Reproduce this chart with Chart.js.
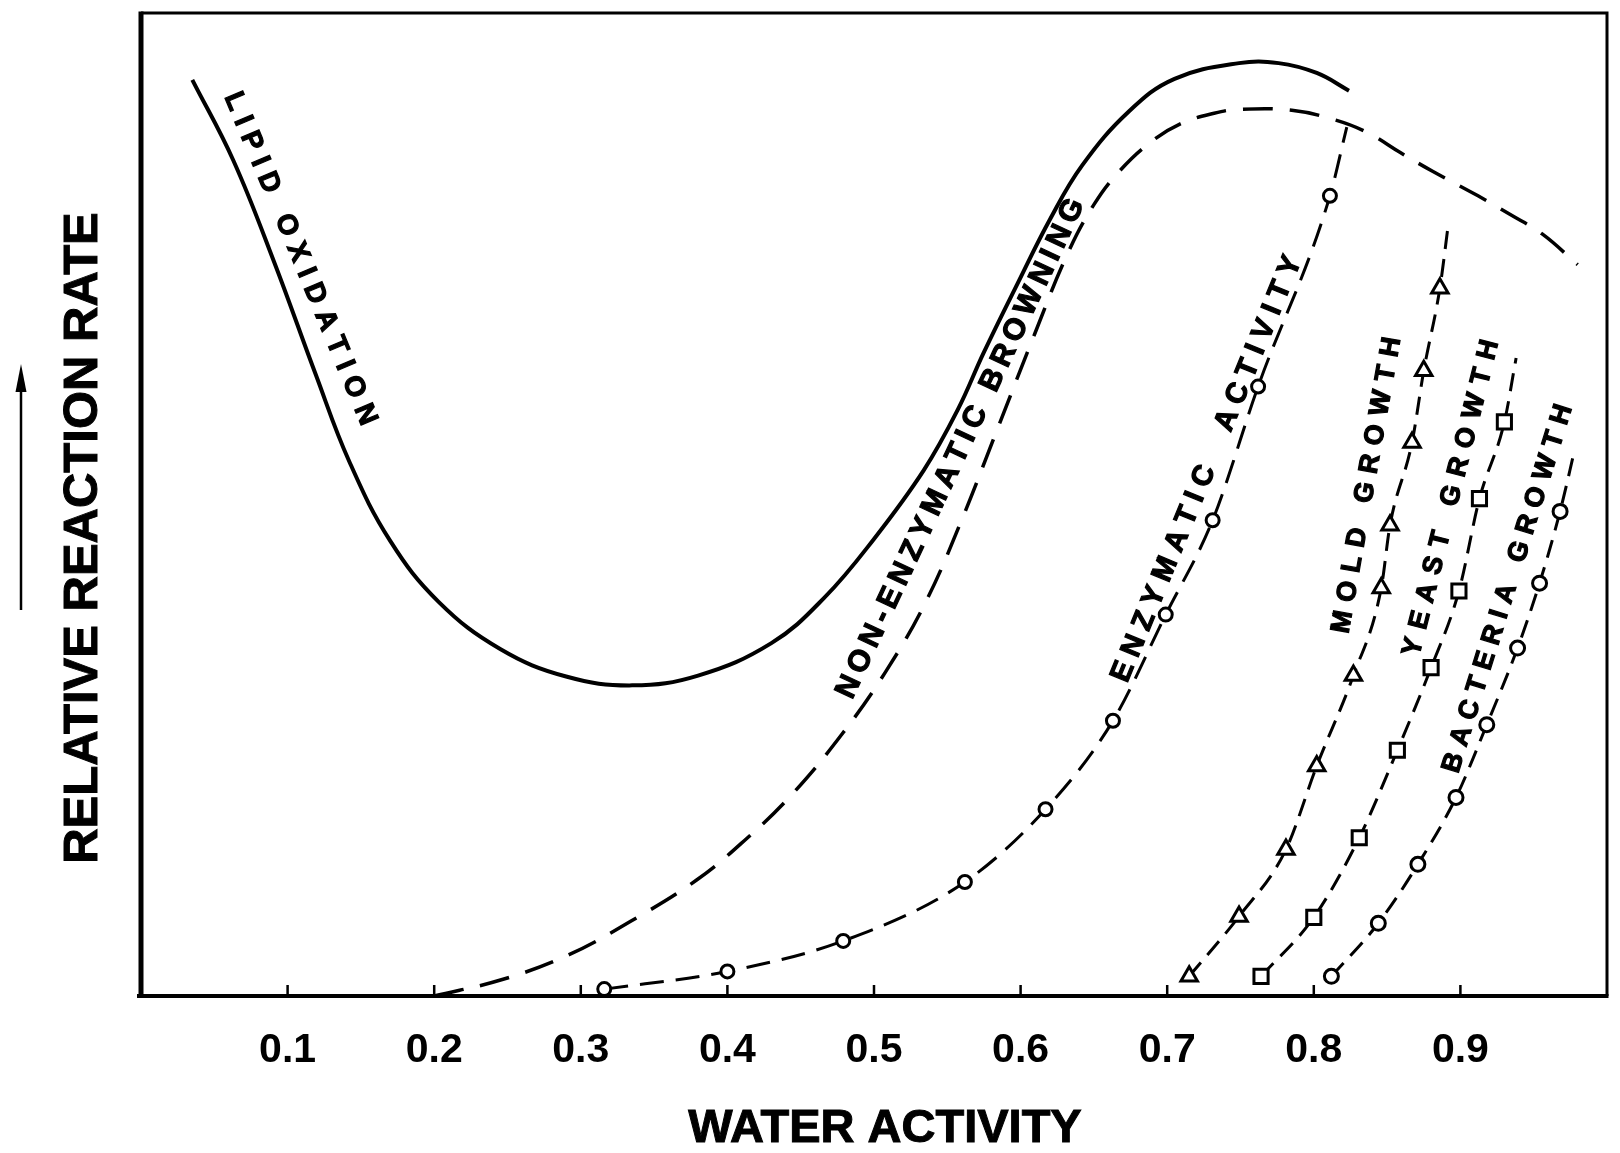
<!DOCTYPE html>
<html>
<head>
<meta charset="utf-8">
<title>Water activity stability map</title>
<script src="https://cdn.jsdelivr.net/npm/chart.js@4.4.1/dist/chart.umd.min.js"></script>
<style>
  html, body { margin: 0; padding: 0; background: #fff; }
  #wrap { width: 1620px; height: 1153px; }
</style>
</head>
<body>
<div id="wrap"><canvas id="chart" width="1620" height="1153"></canvas></div>
<script>
// x axis (water activity)
var xTickValues = [0.1, 0.2, 0.3, 0.4, 0.5, 0.6, 0.7, 0.8, 0.9];
var xTickLabels = ['0.1', '0.2', '0.3', '0.4', '0.5', '0.6', '0.7', '0.8', '0.9'];

// lipid oxidation, solid line
var lipidX = [0.035, 0.063, 0.091, 0.119, 0.142, 0.170, 0.203, 0.245, 0.290, 0.335, 0.380, 0.430, 0.466, 0.500, 0.534, 0.557, 0.575, 0.598, 0.620, 0.642, 0.674, 0.705, 0.749, 0.776, 0.802, 0.824];
var lipidY = [93.2, 85.0, 74.6, 63.3, 54.4, 46.3, 40.1, 35.3, 32.5, 31.6, 32.6, 35.9, 40.5, 46.5, 53.5, 59.6, 65.5, 72.5, 79.0, 84.5, 90.0, 93.3, 94.9, 94.9, 93.9, 92.1];

// non-enzymatic browning, dashed line
var browningX = [0.200, 0.247, 0.292, 0.334, 0.379, 0.413, 0.444, 0.479, 0.508, 0.535, 0.560, 0.585, 0.610, 0.632, 0.650, 0.668, 0.690, 0.710, 0.732, 0.749, 0.785, 0.815, 0.837, 0.859, 0.881, 0.912, 0.934, 0.956, 0.980];
var browningY = [0.0, 1.7, 4.2, 7.6, 11.8, 16.0, 20.5, 26.8, 33.0, 40.0, 48.5, 58.0, 67.5, 75.5, 80.5, 84.0, 87.0, 88.8, 89.8, 90.2, 90.1, 89.1, 87.8, 85.8, 83.9, 81.4, 79.5, 77.5, 74.4];

// enzymatic activity (last point = end of line, no marker)
var enzymeX = [0.316, 0.400, 0.479, 0.562, 0.617, 0.663, 0.699, 0.731, 0.762, 0.811, 0.8225];
var enzymeY = [0.7, 2.5, 5.6, 11.6, 19.0, 28.0, 38.8, 48.4, 62.0, 81.4, 88.4];

// mold growth
var moldX = [0.715, 0.749, 0.781, 0.802, 0.827, 0.846, 0.852, 0.867, 0.875, 0.886, 0.892];
var moldY = [2.0, 8.1, 14.9, 23.4, 32.6, 41.5, 47.9, 56.3, 63.6, 72.0, 78.8];

// yeast growth
var yeastX = [0.764, 0.800, 0.831, 0.857, 0.880, 0.899, 0.913, 0.930, 0.938];
var yeastY = [2.0, 8.0, 16.1, 25.0, 33.4, 41.2, 50.6, 58.4, 64.9];

// bacteria growth
var bacteriaX = [0.812, 0.844, 0.871, 0.897, 0.918, 0.939, 0.954, 0.968, 0.978];
var bacteriaY = [2.0, 7.4, 13.4, 20.2, 27.6, 35.4, 42.0, 49.3, 55.6];

var FONT = "'Liberation Sans', Arial, Helvetica, sans-serif";

// text written along the curves (centre given in data units)
var curveLabels = [
  { text: 'LIPID OXIDATION', x: 0.110, y: 75.1, angle: 67.4, length: 358, size: 28 },
  { text: 'NON-ENZYMATIC BROWNING', x: 0.5576, y: 55.8, angle: -64.9, length: 548, size: 30 },
  { text: 'ENZYMATIC  ACTIVITY', x: 0.7256, y: 53.7, angle: -67.6, length: 458, size: 29 },
  { text: 'MOLD GROWTH', x: 0.8347, y: 52.0, angle: -80, length: 300, size: 27 },
  { text: 'YEAST GROWTH', x: 0.8923, y: 50.7, angle: -75.8, length: 325, size: 27 },
  { text: 'BACTERIA GROWTH', x: 0.9309, y: 41.5, angle: -72.7, length: 384, size: 27 }
];

function toPoints(xs, ys) {
  return xs.map(function (x, i) { return { x: x, y: ys[i] }; });
}

function markerRadius(count, r) {
  return function (ctx) { return ctx.dataIndex < count ? r : 0; };
}

function drawSpacedText(ctx, text, cx, cy, angleDeg, length, size) {
  ctx.save();
  ctx.translate(cx, cy);
  ctx.rotate(angleDeg * Math.PI / 180);
  ctx.font = 'bold ' + size + 'px ' + FONT;
  ctx.textBaseline = 'alphabetic';
  ctx.textAlign = 'left';
  ctx.lineWidth = 1.2;
  var chars = text.split('');
  var widths = chars.map(function (c) { return ctx.measureText(c).width; });
  var natural = widths.reduce(function (a, b) { return a + b; }, 0);
  var gap = (length - natural) / (chars.length - 1);
  var x = -length / 2;
  for (var i = 0; i < chars.length; i++) {
    ctx.fillText(chars[i], x, size * 0.36);
    ctx.strokeText(chars[i], x, size * 0.36);
    x += widths[i] + gap;
  }
  ctx.restore();
}

var decorPlugin = {
  id: 'decor',
  afterDatasetsDraw: function (chart) {
    var ctx = chart.ctx, a = chart.chartArea;
    var xs = chart.scales.x, ys = chart.scales.y;

    ctx.save();
    ctx.strokeStyle = '#000';
    ctx.fillStyle = '#000';
    ctx.lineCap = 'butt';

    // frame
    ctx.lineWidth = 3;
    ctx.beginPath();
    ctx.moveTo(a.left, a.top);
    ctx.lineTo(a.right, a.top);
    ctx.lineTo(a.right, a.bottom);
    ctx.stroke();

    ctx.lineWidth = 5;
    ctx.beginPath();
    ctx.moveTo(a.left, a.top - 1.5);
    ctx.lineTo(a.left, a.bottom);
    ctx.stroke();

    ctx.lineWidth = 4;
    ctx.beginPath();
    ctx.moveTo(a.left - 4, a.bottom);
    ctx.lineTo(a.right + 1.5, a.bottom);
    ctx.stroke();

    // small inward tick marks
    ctx.lineWidth = 2.5;
    ctx.beginPath();
    xTickValues.forEach(function (v) {
      var px = xs.getPixelForValue(v);
      ctx.moveTo(px, a.bottom);
      ctx.lineTo(px, a.bottom - 11);
    });
    ctx.stroke();

    // labels along the curves
    curveLabels.forEach(function (l) {
      drawSpacedText(ctx, l.text, xs.getPixelForValue(l.x), ys.getPixelForValue(l.y), l.angle, l.length, l.size);
    });

    // axis titles
    ctx.lineWidth = 1;
    ctx.textAlign = 'center';
    ctx.textBaseline = 'middle';
    ctx.font = 'bold 47px ' + FONT;
    ctx.fillText('WATER ACTIVITY', 885, 1129);
    ctx.strokeText('WATER ACTIVITY', 885, 1129);

    ctx.save();
    ctx.translate(83, 538);
    ctx.rotate(-Math.PI / 2);
    ctx.font = 'bold 49px ' + FONT;
    ctx.fillText('RELATIVE REACTION RATE', 0, 0);
    ctx.strokeText('RELATIVE REACTION RATE', 0, 0);
    ctx.restore();

    // arrow next to the y title
    ctx.lineWidth = 2.5;
    ctx.beginPath();
    ctx.moveTo(21, 610);
    ctx.lineTo(21, 385);
    ctx.stroke();
    ctx.beginPath();
    ctx.moveTo(21, 364);
    ctx.lineTo(15.5, 392);
    ctx.lineTo(26.5, 392);
    ctx.closePath();
    ctx.fill();

    ctx.restore();
  }
};

var markerStyle = {
  pointBackgroundColor: '#fff',
  pointBorderColor: '#000',
  pointBorderWidth: 3,
  pointHoverRadius: 0,
  cubicInterpolationMode: 'monotone'
};

var chart = new Chart(document.getElementById('chart'), {
  type: 'line',
  data: {
    datasets: [
      {
        label: 'Lipid oxidation',
        data: toPoints(lipidX, lipidY),
        borderColor: '#000',
        borderWidth: 4,
        pointRadius: 0,
        tension: 0.4
      },
      {
        label: 'Non-enzymatic browning',
        data: toPoints(browningX, browningY),
        borderColor: '#000',
        borderWidth: 3.5,
        borderDash: [30, 17],
        pointRadius: 0,
        tension: 0.4
      },
      Object.assign({
        label: 'Enzymatic activity',
        data: toPoints(enzymeX, enzymeY),
        borderColor: '#000',
        borderWidth: 3,
        borderDash: [24, 12],
        pointStyle: 'circle',
        pointRadius: markerRadius(enzymeX.length - 1, 6.5)
      }, markerStyle),
      Object.assign({
        label: 'Mold growth',
        data: toPoints(moldX, moldY),
        borderColor: '#000',
        borderWidth: 3,
        borderDash: [18, 10],
        pointStyle: 'triangle',
        pointRadius: markerRadius(moldX.length - 1, 9.5)
      }, markerStyle),
      Object.assign({
        label: 'Yeast growth',
        data: toPoints(yeastX, yeastY),
        borderColor: '#000',
        borderWidth: 3,
        borderDash: [18, 10],
        pointStyle: 'rect',
        pointRadius: markerRadius(yeastX.length - 1, 10)
      }, markerStyle),
      Object.assign({
        label: 'Bacteria growth',
        data: toPoints(bacteriaX, bacteriaY),
        borderColor: '#000',
        borderWidth: 3,
        borderDash: [18, 10],
        pointStyle: 'circle',
        pointRadius: markerRadius(bacteriaX.length - 1, 7)
      }, markerStyle)
    ]
  },
  options: {
    responsive: false,
    animation: false,
    clip: false,
    layout: {
      padding: { left: 141, right: 3, top: 7, bottom: 0 }
    },
    plugins: {
      legend: { display: false },
      tooltip: { enabled: false }
    },
    scales: {
      x: {
        type: 'linear',
        min: 0,
        max: 1,
        grid: { display: false, drawTicks: false },
        border: { display: false },
        afterBuildTicks: function (scale) {
          scale.ticks = xTickValues.map(function (v) { return { value: v }; });
        },
        afterFit: function (scale) {
          scale.height = 157;
        },
        ticks: {
          padding: 30,
          color: '#000',
          font: { family: FONT, size: 41, weight: 'bold' },
          callback: function (value, index) { return xTickLabels[index]; }
        },
        title: { display: false }
      },
      y: {
        type: 'linear',
        min: 0,
        max: 100,
        display: false
      }
    }
  },
  plugins: [decorPlugin]
});
</script>
</body>
</html>
